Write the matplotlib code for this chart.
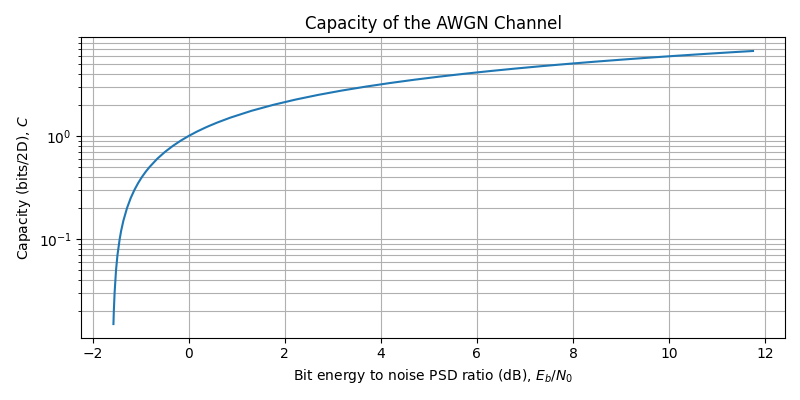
import matplotlib

matplotlib.use("Agg")

import matplotlib.pyplot as plt
import numpy as np

# Points: Eb/N0 (dB) and capacity (bits/2D)
ebn0_db = [-1.570, -1.562, -1.546, -1.516, -1.486, -1.440, -1.410, -1.364,
           -1.287, -1.210, -1.132, -1.054, -0.976, -0.897, -0.817, -0.658,
           -0.496, -0.332, -0.167, 0.000, 0.168, 0.339, 0.425, 0.598,
           0.860, 1.305, 1.761, 2.226, 2.701, 3.186, 3.680, 4.183,
           4.694, 5.213, 5.740, 6.275, 6.818, 7.368, 7.924, 8.487,
           9.056, 9.631, 10.212, 10.798, 11.390, 11.750]
capacity = [0.015, 0.02, 0.03, 0.05, 0.07, 0.1, 0.12, 0.15,
            0.2, 0.25, 0.3, 0.35, 0.4, 0.45, 0.5, 0.6,
            0.7, 0.8, 0.9, 1.0, 1.1, 1.2, 1.25, 1.35,
            1.5, 1.75, 2.0, 2.25, 2.5, 2.75, 3.0, 3.25,
            3.5, 3.75, 4.0, 4.25, 4.5, 4.75, 5.0, 5.25,
            5.5, 5.75, 6.0, 6.25, 6.5, 6.65]

fig, ax = plt.subplots(figsize=(8, 4))
ax.semilogy(np.array(ebn0_db), np.array(capacity))
ax.grid(True, which="both")
ax.set_xticks(np.arange(-2, 13, 2))
ax.set_title("Capacity of the AWGN Channel")
ax.set_xlabel("Bit energy to noise PSD ratio (dB), $E_b/N_0$")
ax.set_ylabel("Capacity (bits/2D), $C$")
fig.tight_layout()
fig.savefig("out.png", dpi=100)
